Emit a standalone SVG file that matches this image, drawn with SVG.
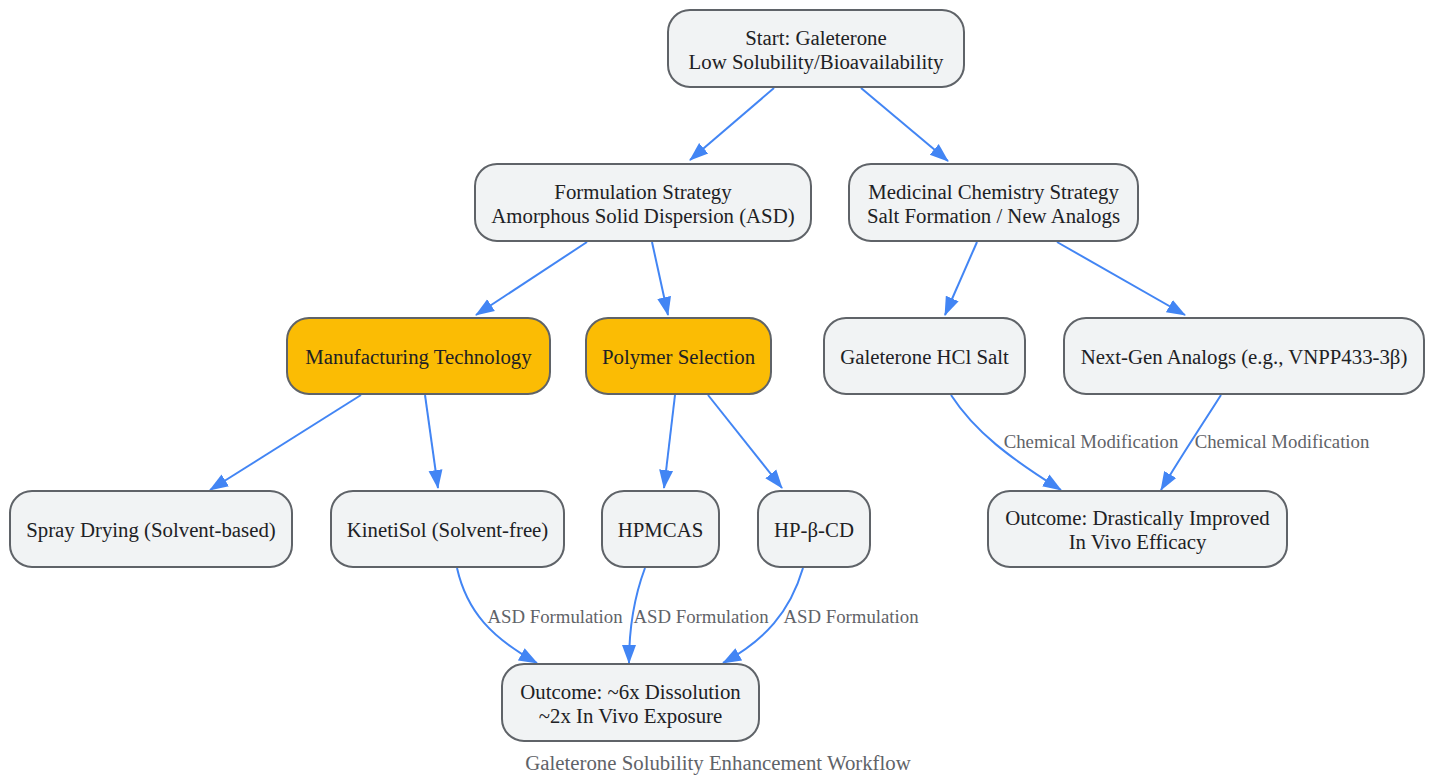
<svg xmlns="http://www.w3.org/2000/svg" width="1436" height="776" viewBox="0 0 1436 776">
<style>
.n rect{fill:#f1f3f4;stroke:#5f6368;stroke-width:2}
.n.hl rect{fill:#fbbc04}
.n text{font-family:"Liberation Serif","Times New Roman",serif;font-size:20.8px;fill:#202124;text-anchor:middle}
.e path{fill:none;stroke:#4285f4;stroke-width:2;marker-end:url(#ah)}
.lbl{font-family:"Liberation Serif","Times New Roman",serif;font-size:18.8px;fill:#5f6368;text-anchor:middle}
</style>
<defs>
<marker id="ah" markerUnits="userSpaceOnUse" markerWidth="20" markerHeight="16" refX="18" refY="7" orient="auto" viewBox="0 0 20 14">
<path d="M0,0 L19,7 L0,14 Z" fill="#4285f4"/>
</marker>
</defs>
<rect width="1436" height="776" fill="#ffffff"/>
<g id="connectors" class="e">
<path d="M774,88 L690,160"/>
<path d="M861,88 L948,161"/>
<path d="M587,242 L476,315"/>
<path d="M652,242 L668,315"/>
<path d="M977,242 L945,315"/>
<path d="M1057,242 L1185,315"/>
<path d="M361,395 L210,490"/>
<path d="M425,395 L438,488"/>
<path d="M675,395 L664,488"/>
<path d="M708,395 L782,488"/>
<path d="M951,395 C975,432 1010,458 1061,490"/>
<path d="M1221,395 C1200,428 1180,458 1161,490"/>
<path d="M457,568 C467,612 492,638 537,663"/>
<path d="M645,568 C633,600 629,630 629,663"/>
<path d="M803,568 C790,612 765,640 723,663"/>
</g>
<g id="edge-labels">
<text class="lbl" x="555" y="623">ASD Formulation</text>
<text class="lbl" x="701" y="623">ASD Formulation</text>
<text class="lbl" x="851" y="623">ASD Formulation</text>
<text class="lbl" x="1091" y="448">Chemical Modification</text>
<text class="lbl" x="1282" y="448">Chemical Modification</text>
</g>
<g id="start" class="n"><rect x="668" y="10" width="296" height="77" rx="22"/><text x="816" y="45">Start: Galeterone</text><text x="816" y="69">Low Solubility/Bioavailability</text></g>
<g id="formulation" class="n"><rect x="475" y="164" width="336" height="77" rx="22"/><text x="643" y="199">Formulation Strategy</text><text x="643" y="223">Amorphous Solid Dispersion (ASD)</text></g>
<g id="medchem" class="n"><rect x="849" y="164" width="289" height="77" rx="22"/><text x="993.5" y="199">Medicinal Chemistry Strategy</text><text x="993.5" y="223">Salt Formation / New Analogs</text></g>
<g id="manufacturing" class="n hl"><rect x="287" y="318" width="263" height="76" rx="22"/><text x="418.5" y="364">Manufacturing Technology</text></g>
<g id="polymer" class="n hl"><rect x="586" y="318" width="185" height="76" rx="22"/><text x="678.5" y="364">Polymer Selection</text></g>
<g id="hcl" class="n"><rect x="824" y="318" width="201" height="76" rx="22"/><text x="924.5" y="364">Galeterone HCl Salt</text></g>
<g id="nextgen" class="n"><rect x="1064" y="318" width="360" height="76" rx="22"/><text x="1244" y="364">Next-Gen Analogs (e.g., VNPP433-3β)</text></g>
<g id="spray" class="n"><rect x="10" y="491" width="282" height="76" rx="22"/><text x="151" y="537">Spray Drying (Solvent-based)</text></g>
<g id="kinetisol" class="n"><rect x="331" y="491" width="233" height="76" rx="22"/><text x="447.5" y="537">KinetiSol (Solvent-free)</text></g>
<g id="hpmcas" class="n"><rect x="602" y="491" width="117" height="76" rx="22"/><text x="660.5" y="537">HPMCAS</text></g>
<g id="hpbcd" class="n"><rect x="758" y="491" width="112" height="76" rx="22"/><text x="814" y="537">HP-β-CD</text></g>
<g id="outcome-efficacy" class="n"><rect x="988" y="491" width="299" height="76" rx="22"/><text x="1137.5" y="525">Outcome: Drastically Improved</text><text x="1137.5" y="549">In Vivo Efficacy</text></g>
<g id="outcome-dissolution" class="n"><rect x="502" y="664" width="257" height="77" rx="22"/><text x="630.5" y="699">Outcome: ~6x Dissolution</text><text x="630.5" y="723">~2x In Vivo Exposure</text></g>
<text id="title" x="718" y="770" font-family="'Liberation Serif','Times New Roman',serif" font-size="20.8" fill="#5f6368" text-anchor="middle">Galeterone Solubility Enhancement Workflow</text>
</svg>
